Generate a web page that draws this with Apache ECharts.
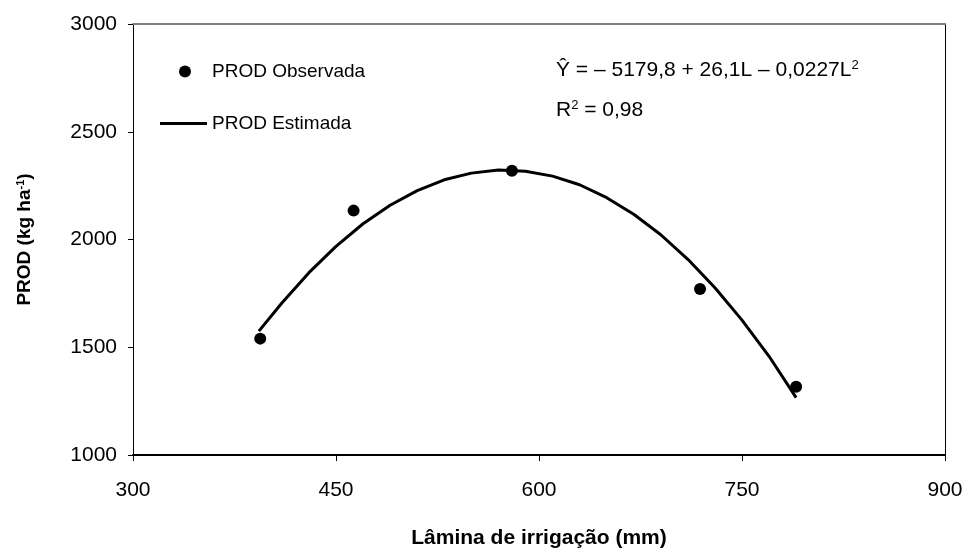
<!DOCTYPE html>
<html>
<head>
<meta charset="utf-8">
<script src="https://cdn.jsdelivr.net/npm/echarts@6/dist/echarts.min.js"></script>
<style>html,body{margin:0;padding:0;background:#fff}#c{width:966px;height:551px}</style>
</head>
<body>
<div id="c"></div>
<script>
// Observed data (irrigation depth mm, yield kg/ha)
var obsL = [394, 463, 580, 719, 790];
var obsY = [1540, 2134, 2319, 1770, 1317];
// Estimated curve
var estL = [393, 410, 430, 450, 470, 490, 510, 530, 550, 570, 590, 610, 630, 650, 670, 690, 710, 730, 750, 770, 790];
var estY = [1575, 1705, 1846, 1968, 2073, 2159, 2227, 2277, 2308, 2322, 2317, 2294, 2254, 2194, 2117, 2022, 1908, 1776, 1626, 1458, 1266];
var xTicks = [300, 450, 600, 750, 900];
var yTicks = [1000, 1500, 2000, 2500, 3000];

var FONT = 'Liberation Sans';
var chart = echarts.init(document.getElementById('c'), null, {renderer: 'canvas'});
var option = {
  backgroundColor: '#ffffff',
  animation: false,
  grid: {left: 133, right: 21, top: 24, bottom: 96, outerBoundsMode: 'none', containLabel: false},
  xAxis: [{
    type: 'value', min: xTicks[0], max: xTicks[xTicks.length - 1], interval: 150,
    axisLine: {show: true, onZero: false, lineStyle: {color: '#000', width: 2}},
    axisTick: {show: true, length: 6, lineStyle: {color: '#000'}},
    axisLabel: {color: '#000', fontFamily: FONT, fontSize: 21, margin: 25, formatter: function (v) { return String(v); }},
    splitLine: {show: false},
    name: 'Lâmina de irrigação (mm)', nameLocation: 'middle', nameGap: 73,
    nameTextStyle: {color: '#000', fontFamily: FONT, fontSize: 21, fontWeight: 'bold'}
  }, {
    type: 'value', position: 'top', min: 300, max: 900, interval: 150,
    axisLine: {show: true, onZero: false, lineStyle: {color: '#808080', width: 2}},
    axisTick: {show: false}, axisLabel: {show: false}, splitLine: {show: false}
  }],
  yAxis: [{
    type: 'value', min: yTicks[0], max: yTicks[yTicks.length - 1], interval: 500,
    axisLine: {show: true, onZero: false, lineStyle: {color: '#000', width: 1}},
    axisTick: {show: true, length: 5, lineStyle: {color: '#000'}},
    axisLabel: {color: '#000', fontFamily: FONT, fontSize: 21, margin: 16, formatter: function (v) { return String(v); }},
    splitLine: {show: false},
    name: '{a|PROD (kg ha}{s|-1}{a|)}', nameLocation: 'middle', nameGap: 99, nameRotate: 90,
    nameTextStyle: {
      rich: {
        a: {color: '#000', fontFamily: FONT, fontSize: 19, fontWeight: 'bold'},
        s: {color: '#000', fontFamily: FONT, fontSize: 11, fontWeight: 'bold', verticalAlign: 'top', padding: [0, 0, 8, 0]}
      }
    }
  }, {
    type: 'value', position: 'right', min: 1000, max: 3000, interval: 500,
    axisLine: {show: true, onZero: false, lineStyle: {color: '#000', width: 1}},
    axisTick: {show: false}, axisLabel: {show: false}, splitLine: {show: false}
  }],
  legend: [{
    data: ['PROD Observada'], left: 174, top: 57, itemWidth: 12, itemHeight: 12,
    textStyle: {color: '#000', fontFamily: FONT, fontSize: 19, padding: [0, 0, 0, 16]}
  }, {
    data: [{name: 'PROD Estimada', icon: 'rect'}], left: 155, top: 109, itemWidth: 47, itemHeight: 3,
    textStyle: {color: '#000', fontFamily: FONT, fontSize: 19, padding: [0, 0, 0, 0]}
  }],
  graphic: [{
    type: 'text', left: 556, top: 59,
    style: {
      text: '{a|Ŷ = – 5179,8 + 26,1L – 0,0227L}{s|2}',
      rich: {
        a: {fill: '#000', fontFamily: FONT, fontSize: 21},
        s: {fill: '#000', fontFamily: FONT, fontSize: 13, verticalAlign: 'top', padding: [0, 0, 10, 0]}
      }
    }
  }, {
    type: 'text', left: 556, top: 99,
    style: {
      text: '{a|R}{s|2}{a| = 0,98}',
      rich: {
        a: {fill: '#000', fontFamily: FONT, fontSize: 21},
        s: {fill: '#000', fontFamily: FONT, fontSize: 13, verticalAlign: 'top', padding: [0, 0, 10, 0]}
      }
    }
  }],
  series: [{
    name: 'PROD Estimada', type: 'line',
    data: estL.map(function (l, i) { return [l, estY[i]]; }),
    showSymbol: false, smooth: false,
    lineStyle: {color: '#000', width: 3},
    itemStyle: {color: '#000'}
  }, {
    name: 'PROD Observada', type: 'scatter',
    data: obsL.map(function (l, i) { return [l, obsY[i]]; }),
    symbol: 'circle', symbolSize: 12,
    itemStyle: {color: '#000', opacity: 1}
  }]
};
chart.setOption(option);
</script>
</body>
</html>
